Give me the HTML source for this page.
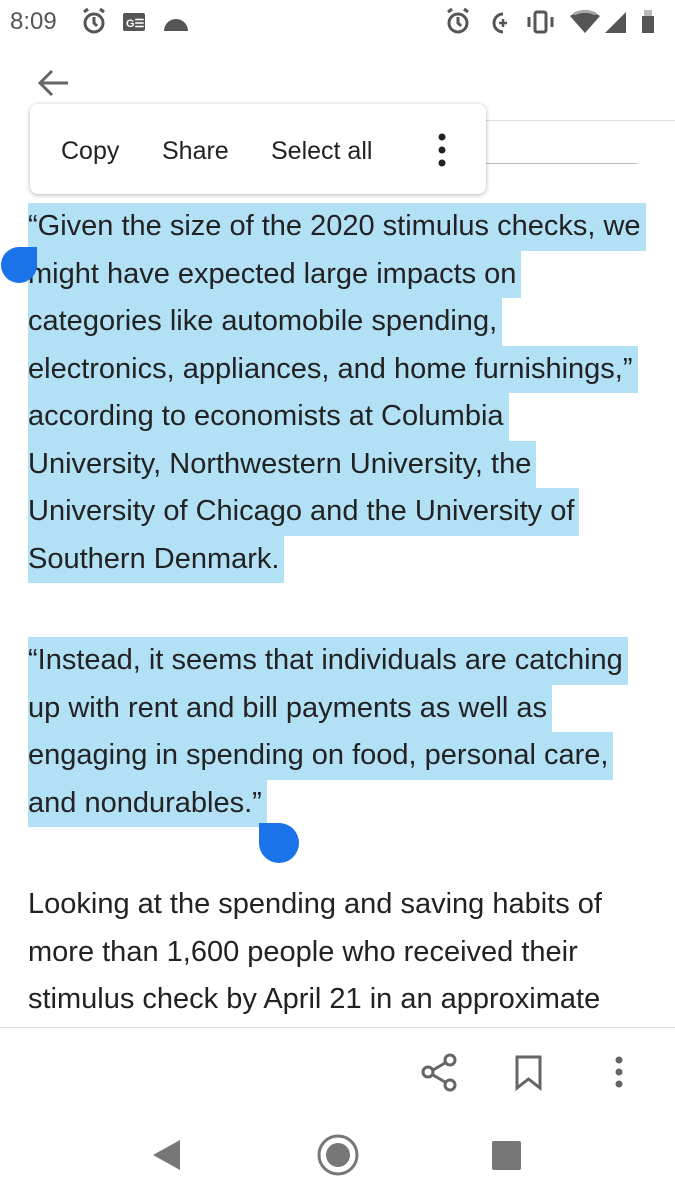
<!DOCTYPE html>
<html><head><meta charset="utf-8"><style>
html,body{margin:0;padding:0;width:675px;height:1200px;background:#fff;overflow:hidden;font-family:"Liberation Sans",sans-serif;color:#222}
.abs{position:absolute}
.ln{position:absolute;left:28px;height:47.5px;line-height:47.5px;font-size:29px;white-space:nowrap}
.hl{background:#b2e1f6}
.mi{position:absolute;top:135px;font-size:25px;color:#222;line-height:32px}
</style></head><body>
<div class="abs" style="left:0;top:0;width:675px;height:45px">
 <div class="abs" style="left:10px;top:8px;font-size:24px;color:#555">8:09</div>
 <svg class="abs" style="left:0;top:0" width="675" height="45">
  <g fill="none" stroke="#555" stroke-width="3"><circle cx="94" cy="23" r="9"/><path d="M94 17v6l3 3M84 12l4-3M104 12l-4-3"/>
  <circle cx="458" cy="23" r="9"/><path d="M458 17v6l3 3M448 12l4-3M468 12l-4-3"/>
  <path d="M503 14a9 9 0 1 0 0 18" /><path d="M499 23h8M503 19v8" stroke-width="2.5"/>
  <rect x="535" y="12" width="11" height="20" rx="2"/><path d="M529 17v10M552 17v10"/></g>
  <rect x="123" y="13" width="22" height="18" rx="2" fill="#555"/>
  <text x="126" y="27" font-size="11" fill="#fff" font-family="Liberation Sans" font-weight="bold">G☰</text>
  <path d="M164 31a12 12 0 0 1 24 0z" fill="#555"/>
  <path d="M570 16a26 26 0 0 1 30 0l-15 17z" fill="#555"/><path d="M574 14a24 24 0 0 1 22 0" stroke="#aaa" stroke-width="3" fill="none"/>
  <path d="M626 33L605 33 626 12z" fill="#555"/>
  <rect x="642" y="16" width="12" height="17" fill="#555"/><rect x="644" y="10" width="8" height="6" fill="#bbb"/>
 </svg>
</div>
<svg class="abs" style="left:36px;top:68px" width="34" height="30"><path d="M4 15h28M16 3L4 15l12 12" stroke="#666" stroke-width="3" fill="none"/></svg>
<div class="abs" style="left:486px;top:120px;width:189px;height:1px;background:#ddd"></div>
<div class="abs" style="left:486px;top:163px;width:151px;height:1px;background:#bbb"></div>
<div class="abs" style="left:30px;top:104px;width:456px;height:90px;background:#fff;border-radius:8px;box-shadow:0 1px 5px rgba(0,0,0,.3)"></div>
<div class="mi" style="left:61px">Copy</div>
<div class="mi" style="left:162px">Share</div>
<div class="mi" style="left:271px">Select all</div>
<svg class="abs" style="left:432px;top:130px" width="20" height="40"><circle cx="10" cy="7" r="3.5" fill="#222"/><circle cx="10" cy="20" r="3.5" fill="#222"/><circle cx="10" cy="33" r="3.5" fill="#222"/></svg>

<div>
<div class="ln hl" style="top:203px;padding-right:5px">“Given the size of the 2020 stimulus checks, we</div>
<div class="ln hl" style="top:250.5px;padding-right:5px">might have expected large impacts on</div>
<div class="ln hl" style="top:298px;padding-right:5px">categories like automobile spending,</div>
<div class="ln hl" style="top:345.5px;padding-right:5px">electronics, appliances, and home furnishings,”</div>
<div class="ln hl" style="top:393px;padding-right:5px">according to economists at Columbia</div>
<div class="ln hl" style="top:440.5px;padding-right:5px">University, Northwestern University, the</div>
<div class="ln hl" style="top:488px;padding-right:5px">University of Chicago and the University of</div>
<div class="ln hl" style="top:535.5px;padding-right:5px">Southern Denmark.</div>
</div>
<div>
<div class="ln hl" style="top:637px;padding-right:5px">“Instead, it seems that individuals are catching</div>
<div class="ln hl" style="top:684.5px;padding-right:5px">up with rent and bill payments as well as</div>
<div class="ln hl" style="top:732px;padding-right:5px">engaging in spending on food, personal care,</div>
<div class="ln hl" style="top:779.5px;padding-right:5px">and nondurables.”</div>
</div>
<div>
<div class="ln" style="top:881px">Looking at the spending and saving habits of</div>
<div class="ln" style="top:928.5px">more than 1,600 people who received their</div>
<div class="ln" style="top:976px">stimulus check by April 21 in an approximate</div>
</div>
<svg class="abs" style="left:0;top:247px" width="38" height="38"><path d="M37 0H18A18 18 0 1 0 37 19z" fill="#1a73e8"/></svg>
<svg class="abs" style="left:259px;top:823px" width="42" height="40"><path d="M0 0H21A20 20 0 1 1 0 20z" fill="#1a73e8"/></svg>

<div class="abs" style="left:0;top:1027px;width:675px;height:90px;background:#fff;border-top:1px solid #ddd"></div>
<svg class="abs" style="left:420px;top:1053px" width="40" height="40"><g fill="none" stroke="#666" stroke-width="3"><circle cx="30" cy="7" r="5"/><circle cx="8" cy="19" r="5"/><circle cx="30" cy="32" r="5"/><path d="M13 17l12-7M13 22l12 7"/></g></svg>
<svg class="abs" style="left:514px;top:1055px" width="30" height="36"><path d="M3 2h23v31L14.5 24 3 33z" fill="none" stroke="#666" stroke-width="3"/></svg>
<svg class="abs" style="left:609px;top:1055px" width="20" height="36"><circle cx="10" cy="5" r="3.5" fill="#666"/><circle cx="10" cy="17" r="3.5" fill="#666"/><circle cx="10" cy="29" r="3.5" fill="#666"/></svg>
<svg class="abs" style="left:0;top:1120px" width="675" height="80">
 <path d="M180 20v30L153 35z" fill="#777"/>
 <circle cx="338" cy="35" r="19" fill="none" stroke="#777" stroke-width="3"/><circle cx="338" cy="35" r="12" fill="#777"/>
 <rect x="492" y="21" width="29" height="29" rx="2" fill="#777"/>
</svg>
</body></html>
